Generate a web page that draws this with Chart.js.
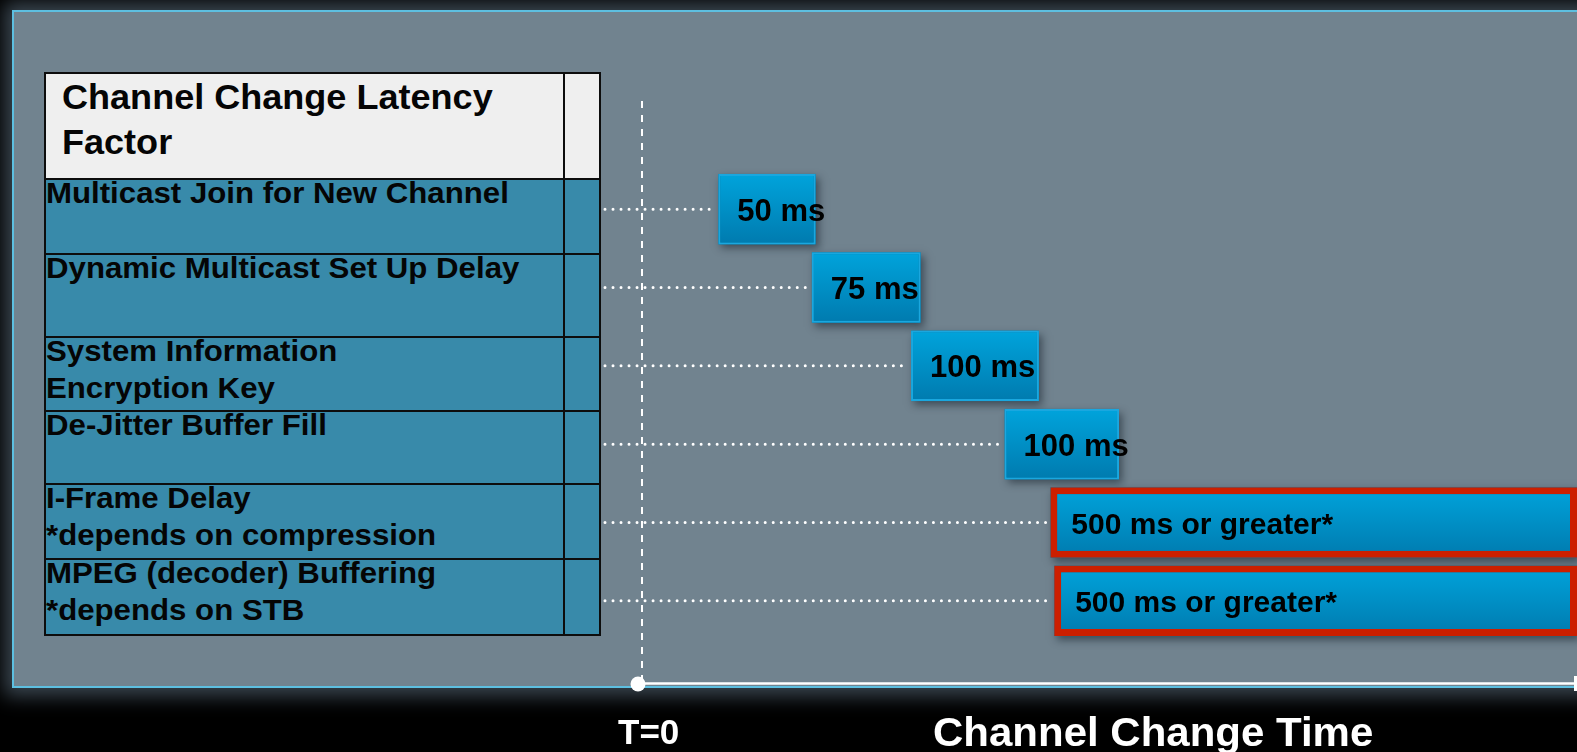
<!DOCTYPE html>
<html>
<head>
<meta charset="utf-8">
<title>Channel Change Latency</title>
<script src="https://cdn.jsdelivr.net/npm/chart.js@4.4.1/dist/chart.umd.min.js"></script>
<style>
  html, body { margin: 0; padding: 0; background: #000; }
  #page {
    position: relative; width: 1577px; height: 752px; overflow: hidden; background: #000;
    font-family: "Liberation Sans", Arial, sans-serif; font-weight: bold;
  }
  #panel {
    position: absolute; left: 12px; top: 10px; width: 1620px; height: 674px;
    border: 2px solid #5dbfe0; background: #71838f;
    box-shadow: 0 0 18px 8px #3a4650;
  }
  #table { position: absolute; left: 44px; top: 72px; width: 557px; }
  .cell { position: absolute; box-sizing: border-box; border: 2px solid #0d0d0d; }
  .txt {
    position: absolute; white-space: nowrap; color: #050505;
    transform-origin: 0 0;
  }
  #chartBox { position: absolute; left: 0; top: 0; width: 1577px; height: 752px; }
  .axisText { position: absolute; color: #fff; white-space: nowrap; line-height: 1; transform-origin: 0 0; }
</style>
</head>
<body>
<div id="page">
  <div id="panel"></div>
  <div id="table"></div>
  <div id="chartBox"><canvas id="latencyChart" width="1577" height="752"></canvas></div>
  <div class="axisText" style="left:618px; top:714px; font-size:35px;">T=0</div>
  <div class="axisText" style="left:933px; top:712px; font-size:40px; transform:scaleX(1.05);">Channel Change Time</div>
</div>
<script>
// Datos (unidades del eje de tiempo del diagrama)
const headerTitle = 'Channel Change Latency\nFactor';
const factors = [
  'Multicast Join for New Channel',
  'Dynamic Multicast Set Up Delay',
  'System Information\nEncryption Key',
  'De-Jitter Buffer Fill',
  'I-Frame Delay\n*depends on compression',
  'MPEG (decoder) Buffering\n*depends on STB'
];
const timeStart = [40, 89, 141, 190, 214, 216];
const timeEnd = [91, 146, 208, 250, 490, 490];
const barLabels = ['50 ms', '75 ms', '100 ms', '100 ms', '500 ms or greater*', '500 ms or greater*'];

// ---- tabla de la izquierda (HTML) ----
const table = document.getElementById('table');
const rowEdges = [0, 106, 181, 264, 338, 411, 486, 562];
const col1 = 519;

function addCell(left, top, width, height, bg) {
  const d = document.createElement('div');
  d.className = 'cell';
  d.style.cssText = `left:${left}px;top:${top}px;width:${width}px;height:${height}px;background:${bg};`;
  table.appendChild(d);
}
function addText(text, left, top, size, lh, sx) {
  const t = document.createElement('div');
  t.className = 'txt';
  t.style.cssText = `left:${left}px;top:${top}px;font-size:${size}px;line-height:${lh}px;transform:scaleX(${sx});`;
  t.innerHTML = text.replace(/\n/g, '<br>');
  table.appendChild(t);
}
for (let r = 0; r < rowEdges.length - 1; r++) {
  const top = rowEdges[r];
  const h = rowEdges[r + 1] - rowEdges[r] + 2;
  const bg = r === 0 ? '#efefef' : '#388aaa';
  addCell(0, top, col1 + 2, h, bg);
  addCell(col1, top, 557 - col1, h, bg);
}
addText(headerTitle, 18, 2, 35, 45, 1.03);
factors.forEach((f, i) => addText(f, 2, rowEdges[i + 1] - 4, 30, 37, 1.04));

// ---- gráfico ----
const isVariable = barLabels.map(l => l.endsWith('*'));

const diagramPlugin = {
  id: 'diagram',
  beforeDatasetsDraw(chart) {
    const { ctx, scales: { x, y } } = chart;
    const meta = chart.getDatasetMeta(0);
    const x0 = x.getPixelForValue(0);
    ctx.save();
    // linea discontinua T=0
    ctx.strokeStyle = '#ffffff';
    ctx.lineWidth = 2;
    ctx.setLineDash([7, 7]);
    ctx.beginPath();
    ctx.moveTo(x0, 101);
    ctx.lineTo(x0, 684);
    ctx.stroke();
    // lineas punteadas desde la tabla
    ctx.setLineDash([0.01, 8]);
    ctx.lineCap = 'round';
    ctx.lineWidth = 3;
    meta.data.forEach((bar, i) => {
      const cy = y.getPixelForValue(i);
      const { base } = bar.getProps(['base'], true);
      ctx.beginPath();
      ctx.moveTo(605, cy);
      ctx.lineTo(base - 3, cy);
      ctx.stroke();
    });
    // sombras de las barras
    ctx.setLineDash([]);
    ctx.shadowColor = 'rgba(20,30,40,0.55)';
    ctx.shadowBlur = 8;
    ctx.shadowOffsetX = 3;
    ctx.shadowOffsetY = 4;
    ctx.fillStyle = '#0080b0';
    meta.data.forEach(bar => {
      const p = bar.getProps(['x', 'y', 'base', 'height'], true);
      ctx.fillRect(p.base, p.y - p.height / 2, p.x - p.base, p.height);
    });
    ctx.restore();
  },
  afterDatasetsDraw(chart) {
    const { ctx, chartArea, scales: { x } } = chart;
    const meta = chart.getDatasetMeta(0);
    ctx.save();
    ctx.fillStyle = '#000';
    ctx.textBaseline = 'middle';
    ctx.textAlign = 'left';
    meta.data.forEach((bar, i) => {
      const p = bar.getProps(['y', 'base'], true);
      const long = isVariable[i];
      ctx.font = `bold ${long ? 30 : 31}px "Liberation Sans", Arial, sans-serif`;
      ctx.fillText(barLabels[i], p.base + (long ? 21 : 19), p.y + 3);
    });
    // eje de tiempo
    const x0 = x.getPixelForValue(0);
    ctx.strokeStyle = '#ffffff';
    ctx.lineWidth = 2.5;
    ctx.beginPath();
    ctx.moveTo(x0 - 4, 683.5);
    ctx.lineTo(chartArea.right, 683.5);
    ctx.stroke();
    ctx.fillStyle = '#ffffff';
    ctx.beginPath();
    ctx.arc(x0 - 4, 684, 7.5, 0, Math.PI * 2);
    ctx.fill();
    ctx.fillRect(chartArea.right - 3, 676, 3, 15);
    ctx.restore();
  }
};

function barGradient(c) {
  const chart = c.chart;
  const y = chart.scales.y;
  if (!chart.chartArea || !y) return '#0092c8';
  const cy = y.getPixelForValue(c.dataIndex);
  const g = chart.ctx.createLinearGradient(0, cy - 36, 0, cy + 36);
  g.addColorStop(0, '#00a4dc');
  g.addColorStop(1, '#007aae');
  return g;
}

const ctx = document.getElementById('latencyChart').getContext('2d');
new Chart(ctx, {
  type: 'bar',
  data: {
    labels: factors,
    datasets: [{
      data: timeStart.map((s, i) => [s, timeEnd[i]]),
      backgroundColor: barGradient,
      borderColor: c => isVariable[c.dataIndex] ? '#cc1f00' : '#1aa7df',
      borderWidth: c => isVariable[c.dataIndex] ? 7 : 2,
      borderSkipped: false,
      barPercentage: 0.9,
      categoryPercentage: 1
    }]
  },
  options: {
    indexAxis: 'y',
    responsive: false,
    animation: false,
    layout: { padding: { left: 642, right: 0, top: 170, bottom: 112 } },
    plugins: { legend: { display: false }, tooltip: { enabled: false } },
    scales: {
      x: { type: 'linear', min: 0, max: 490, display: false },
      y: { type: 'category', display: false }
    }
  },
  plugins: [diagramPlugin]
});
</script>
</body>
</html>
